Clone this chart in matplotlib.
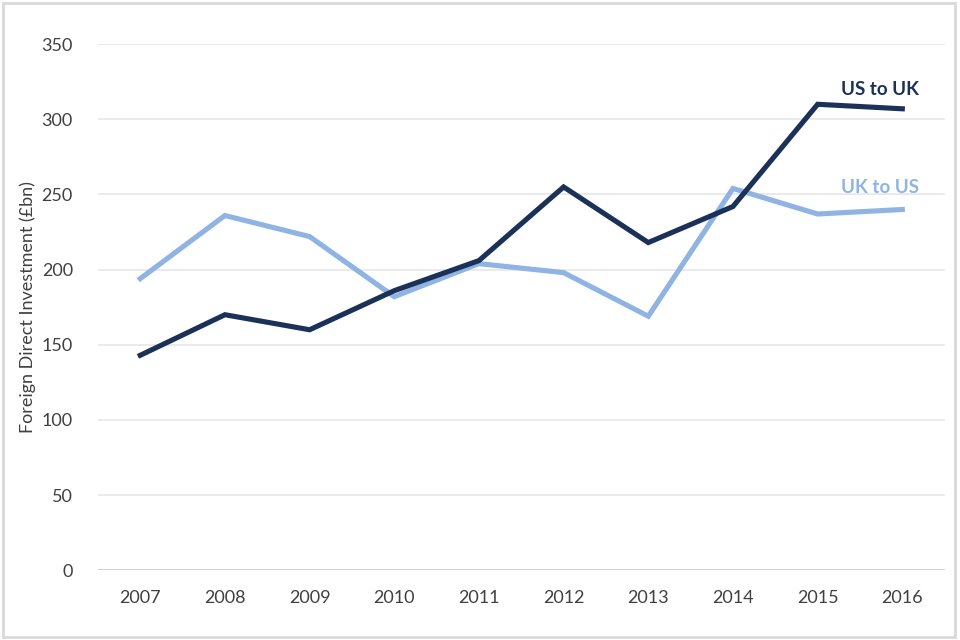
import numpy as np
import matplotlib
matplotlib.use('Agg')
import matplotlib.pyplot as plt
from matplotlib.patches import Rectangle

plt.rcParams['font.family'] = ['Lato', 'DejaVu Sans']

years = [2007, 2008, 2009, 2010, 2011, 2012, 2013, 2014, 2015, 2016]
us_to_uk = [143, 170, 160, 186, 206, 255, 218, 242, 310, 307]
uk_to_us = [194, 236, 222, 182, 204, 198, 169, 254, 237, 240]

navy = '#1b3158'
light = '#8fb4e3'

fig = plt.figure(figsize=(9.6, 6.4), dpi=100)
ax = fig.add_axes([0.102, 0.109, 0.882, 0.822])

ax.plot(years, uk_to_us, color=light, lw=3.7, solid_joinstyle='miter')
ax.plot(years, us_to_uk, color=navy, lw=3.7, solid_joinstyle='miter')

ax.set_xlim(2006.5, 2016.5)
ax.set_ylim(0, 350)
ax.set_yticks(np.arange(0, 351, 50))
ax.set_xticks(years)
ax.grid(axis='y', color='#e6e6e6', lw=1.2)
ax.set_axisbelow(True)
for s in ax.spines.values():
    s.set_visible(False)
ax.axhline(0, color='#d0d0d0', lw=1.3, zorder=1)
ax.tick_params(axis='both', length=0, labelsize=13, labelcolor='#404040')
ax.tick_params(axis='y', pad=18)
ax.tick_params(axis='x', pad=14)
ax.set_ylabel('Foreign Direct Investment (£bn)', fontsize=13, color='#404040', labelpad=4)

ax.text(years[-1] + 0.2, 314, 'US to UK', color=navy, fontsize=13.5, fontweight='bold',
        ha='right', va='bottom')
ax.text(years[-1] + 0.2, 249, 'UK to US', color=light, fontsize=13.5, fontweight='bold',
        ha='right', va='bottom')

fig.patches.append(Rectangle((0.003, 0.004), 0.992, 0.992, transform=fig.transFigure,
                             fill=False, edgecolor='#d9d9d9', lw=2))

fig.savefig('out.png', dpi=100)
